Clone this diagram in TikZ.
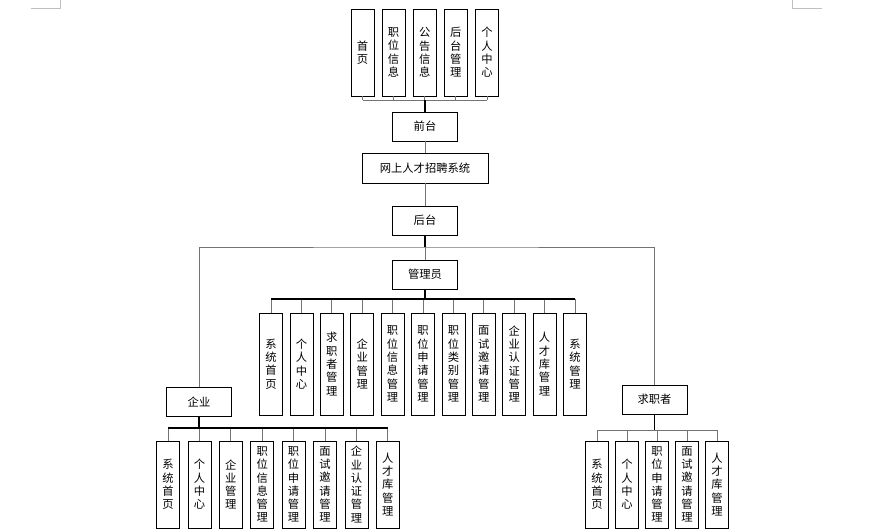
\documentclass[tikz,border=0pt]{standalone}
\usepackage{fontspec}
\setmainfont{Noto Sans CJK SC}
\usepackage{tikz}

\begin{document}
\begin{tikzpicture}[x=1pt,y=-1pt,
    box/.style={draw,line width=0.8pt,inner sep=0pt,font=\fontsize{11.3}{13.3}\selectfont,align=center},
    hbox/.style={box,minimum width=65pt,minimum height=29pt},
    vbox/.style={box,minimum width=23pt,minimum height=87pt},
    tallbox/.style={box,minimum width=23pt,minimum height=102pt},
    link/.style={draw=black!55,line width=0.7pt},
    trunk/.style={draw=black,line width=1.3pt}]
    \useasboundingbox (0,0) rectangle (883,530);
    \draw[black!25,line width=0.6pt] (31,8) -- (60,8) -- (60,0);
    \draw[black!25,line width=0.6pt] (792,0) -- (792,8) -- (822,8);

    \node[hbox] (qiantai) at (425,126.5) {前台};
    \node[box,minimum width=126pt,minimum height=30pt] (sys) at (425,168) {网上人才招聘系统};
    \node[hbox] (houtai) at (425,220.5) {后台};
    \node[hbox] (admin) at (425,274.5) {管理员};
    \node[hbox] (qiye) at (199,402) {企业};
    \node[hbox] (qiuzhi) at (654.5,399.5) {求职者};

    \foreach \lab [count=\i] in {{首\\页},{职\\位\\信\\息},{公\\告\\信\\息},{后\\台\\管\\理},{个\\人\\中\\心}}
        \node[vbox] (front\i) at ({362.5+31.1*(\i-1)},52.5) {\lab};

    \foreach \lab [count=\i] in {{系\\统\\首\\页},{个\\人\\中\\心},{求\\职\\者\\管\\理},{企\\业\\管\\理},
        {职\\位\\信\\息\\管\\理},{职\\位\\申\\请\\管\\理},{职\\位\\类\\别\\管\\理},{面\\试\\邀\\请\\管\\理},
        {企\\业\\认\\证\\管\\理},{人\\才\\库\\管\\理},{系\\统\\管\\理}}
        \node[tallbox] (adm\i) at ({271+30.4*(\i-1)},364) {\lab};

    \foreach \lab [count=\i] in {{系\\统\\首\\页},{个\\人\\中\\心},{企\\业\\管\\理},{职\\位\\信\\息\\管\\理},
        {职\\位\\申\\请\\管\\理},{面\\试\\邀\\请\\管\\理},{企\\业\\认\\证\\管\\理},{人\\才\\库\\管\\理}}
        \node[vbox] (qy\i) at ({168+31.4*(\i-1)},484.5) {\lab};

    \foreach \lab [count=\i] in {{系\\统\\首\\页},{个\\人\\中\\心},{职\\位\\申\\请\\管\\理},
        {面\\试\\邀\\请\\管\\理},{人\\才\\库\\管\\理}}
        \node[vbox] (qz\i) at ({597+30*(\i-1)},484.5) {\lab};

    \coordinate (frontbus) at (425,100);
    \foreach \i in {1,...,5}
        \draw[link] (front\i.south) -- (front\i.south |- frontbus);
    \draw[link] (front1.south |- frontbus) -- (front5.south |- frontbus);
    \draw[trunk] (qiantai.north) -- (frontbus);

    \draw[link] (qiantai.south) -- (sys.north);
    \draw[link] (sys.south) -- (houtai.north);
    \coordinate (split) at (425,247);
    \draw[trunk] (houtai.south) -- (split);
    \draw[link] (split) -- (admin.north);
    \draw[link] (qiye.north) |- (split) -| (qiuzhi.north);

    \coordinate (admbus) at (425,299);
    \foreach \i in {1,...,11}
        \draw[link] (adm\i.north) -- (adm\i.north |- admbus);
    \draw[trunk] (adm1.north |- admbus) -- (adm11.north |- admbus);
    \draw[trunk] (admin.south) -- (admbus);

    \coordinate (qybus) at (199,428);
    \foreach \i in {1,...,8}
        \draw[link] (qy\i.north) -- (qy\i.north |- qybus);
    \draw[trunk] (qy1.north |- qybus) -- (qy8.north |- qybus);
    \draw[trunk] (qiye.south) -- (qybus);

    \coordinate (qzbus) at (654.5,430);
    \foreach \i in {1,...,5}
        \draw[link] (qz\i.north) -- (qz\i.north |- qzbus);
    \draw[link] (qz1.north |- qzbus) -- (qz5.north |- qzbus);
    \draw[trunk] (qiuzhi.south) -- (qzbus);
\end{tikzpicture}
\end{document}
